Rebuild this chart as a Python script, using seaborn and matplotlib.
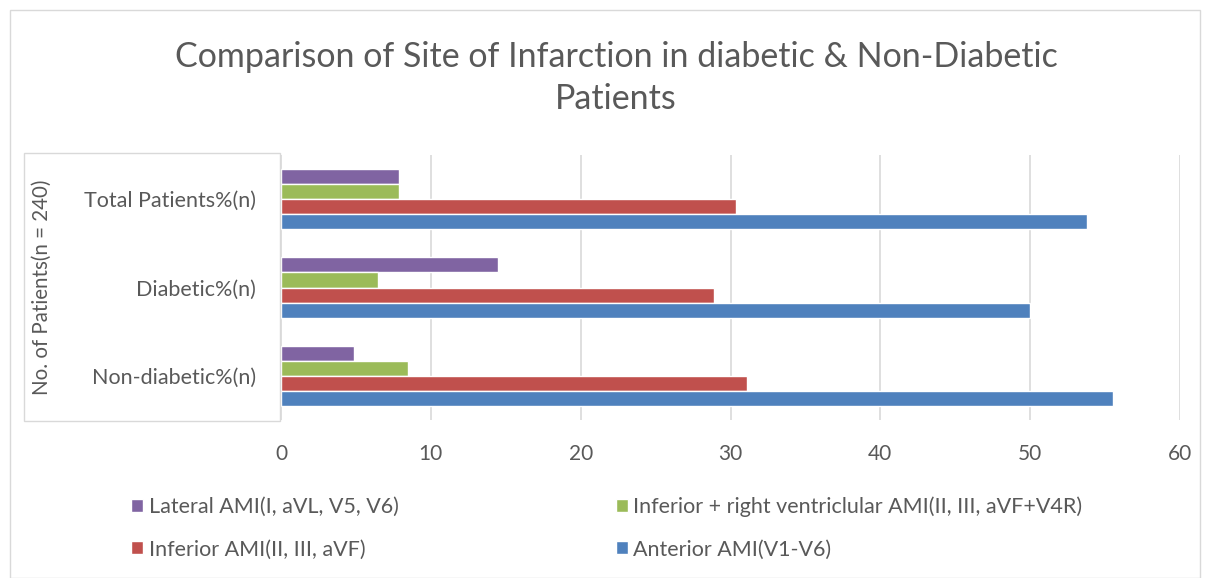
"""
Site of infarction - diabetic vs non-diabetic patients
"""

import pandas as pd
import matplotlib.pyplot as plt
from matplotlib.patches import Rectangle
import seaborn as sns

sns.set_theme(style='white')
plt.rcParams['font.family'] = ['Lato', 'DejaVu Sans']

# ─── Data ────────────────────────────────────────────────────
groups = ['Total Patients%(n)', 'Diabetic%(n)', 'Non-diabetic%(n)']
sites = ['Lateral AMI(I, aVL, V5, V6)',
         'Inferior + right ventriclular AMI(II, III, aVF+V4R)',
         'Inferior AMI(II, III, aVF)',
         'Anterior AMI(V1-V6)']
lateral = [7.9, 14.5, 4.9]
inferior_rv = [7.9, 6.5, 8.5]
inferior = [30.4, 28.9, 31.1]
anterior = [53.8, 50.0, 55.5]
colors = ['#8064A2', '#9BBB59', '#C0504D', '#4F81BD']

rows = []
for site, vals in zip(sites, [lateral, inferior_rv, inferior, anterior]):
    for g, v in zip(groups, vals):
        rows.append({'group': g, 'site': site, 'pct': v})
df = pd.DataFrame(rows)

# ─── Plot ────────────────────────────────────────────────────
fig = plt.figure(figsize=(12.06, 5.78), dpi=100)
ax = fig.add_axes([281 / 1206, 1 - 420 / 578, (1180 - 281) / 1206, (420 - 155) / 578])

sns.barplot(data=df, y='group', x='pct', hue='site', order=groups,
            hue_order=sites, palette=colors, orient='h', width=0.68,
            saturation=1, ax=ax, legend=True)

ax.set_xlim(0, 60)
ax.set_xticks(range(0, 61, 10))
ax.xaxis.grid(True, color='#d9d9d9', linewidth=1.2)
ax.set_axisbelow(True)
for s in ax.spines.values():
    s.set_visible(False)
ax.tick_params(axis='x', labelsize=15, colors='#595959', pad=17, length=0)
ax.tick_params(axis='y', labelsize=15.5, colors='#595959', pad=18, length=0)
ax.set_xlabel('')
ax.set_ylabel('No. of Patients(n = 240)', fontsize=14.8, color='#595959')
ax.yaxis.set_label_coords(-0.255, 0.5)

# legend below: row 1 lateral / inferior+RV, row 2 inferior / anterior
handles, labels = ax.get_legend_handles_labels()
ax.get_legend().remove()
idx = [0, 2, 1, 3]
fig.legend([handles[i] for i in idx], [labels[i] for i in idx],
           ncol=2, loc='upper left', bbox_to_anchor=(112 / 1206, 1 - 477 / 578),
           frameon=False, fontsize=15.5, labelcolor='#595959',
           handlelength=0.55, handleheight=0.55, handletextpad=0.25,
           columnspacing=10.1, labelspacing=1.05)

fig.suptitle('Comparison of Site of Infarction in diabetic & Non-Diabetic\nPatients',
             x=616 / 1206, y=1 - 41 / 578, fontsize=24.5, color='#595959',
             linespacing=1.38)

# chart / axis area borders
fig.patches.append(Rectangle((10 / 1206, 0), 1190 / 1206, 1 - 10 / 578,
                             transform=fig.transFigure, fill=False,
                             edgecolor='#d9d9d9', linewidth=1))
fig.patches.append(Rectangle((24 / 1206, 1 - 421 / 578), 256 / 1206, 268 / 578,
                             transform=fig.transFigure, fill=False,
                             edgecolor='#d9d9d9', linewidth=1))

fig.savefig('out.png', dpi=100)
plt.close()
